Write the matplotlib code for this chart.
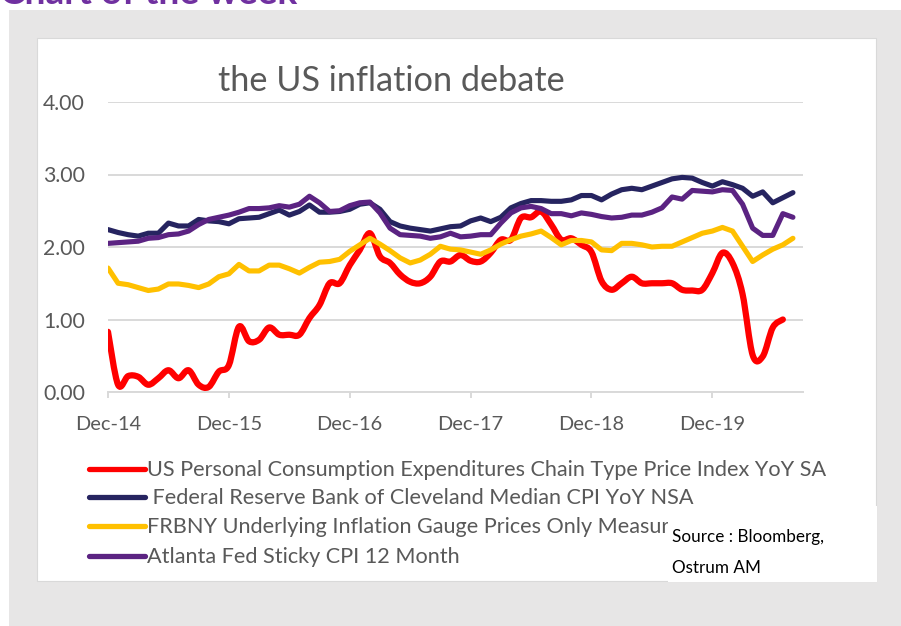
import numpy as np
import matplotlib
matplotlib.use("Agg")
import matplotlib.pyplot as plt
from matplotlib.path import Path
from matplotlib.patches import PathPatch, Rectangle
from matplotlib.lines import Line2D

# ---------------- data (monthly, Dec-14 .. Aug-20) ----------------
tick_labels = ["Dec-14", "Dec-15", "Dec-16", "Dec-17", "Dec-18", "Dec-19"]
tick_months = [0, 12, 24, 36, 48, 60]

pce = [0.83, 0.10, 0.22, 0.21, 0.10, 0.19, 0.30, 0.19, 0.30, 0.10, 0.07, 0.28,
       0.37, 0.90, 0.70, 0.72, 0.89, 0.79, 0.79, 0.79, 1.02, 1.20, 1.50, 1.50,
       1.75, 1.96, 2.19, 1.87, 1.78, 1.62, 1.52, 1.50, 1.59, 1.80, 1.80, 1.89,
       1.81, 1.80, 1.92, 2.10, 2.10, 2.40, 2.41, 2.49, 2.31, 2.10, 2.12, 2.03,
       1.93, 1.53, 1.41, 1.50, 1.59, 1.50, 1.50, 1.50, 1.50, 1.41, 1.40, 1.41,
       1.64, 1.92, 1.78, 1.35, 0.51, 0.49, 0.89, 1.00]

cleveland = [2.24, 2.20, 2.17, 2.15, 2.19, 2.19, 2.33, 2.29, 2.29, 2.38, 2.36, 2.35,
             2.32, 2.39, 2.40, 2.41, 2.46, 2.51, 2.44, 2.49, 2.58, 2.48, 2.48, 2.49,
             2.52, 2.59, 2.61, 2.52, 2.35, 2.29, 2.26, 2.24, 2.22, 2.25, 2.28, 2.29,
             2.36, 2.40, 2.35, 2.41, 2.54, 2.60, 2.64, 2.64, 2.63, 2.63, 2.65, 2.71,
             2.71, 2.65, 2.73, 2.79, 2.81, 2.79, 2.84, 2.89, 2.94, 2.96, 2.95, 2.89,
             2.84, 2.90, 2.86, 2.81, 2.70, 2.76, 2.61, 2.68, 2.75]

frbny = [1.71, 1.50, 1.48, 1.44, 1.40, 1.42, 1.49, 1.49, 1.47, 1.44, 1.49, 1.59,
         1.63, 1.76, 1.67, 1.67, 1.75, 1.75, 1.70, 1.64, 1.72, 1.79, 1.80, 1.83,
         1.94, 2.03, 2.12, 2.04, 1.95, 1.85, 1.78, 1.82, 1.90, 2.01, 1.97, 1.96,
         1.93, 1.90, 1.96, 2.04, 2.10, 2.15, 2.18, 2.22, 2.13, 2.03, 2.09, 2.09,
         2.07, 1.96, 1.95, 2.05, 2.05, 2.03, 2.00, 2.01, 2.01, 2.07, 2.13, 2.19,
         2.22, 2.27, 2.22, 2.01, 1.80, 1.89, 1.97, 2.03, 2.12]

atlanta = [2.05, 2.06, 2.07, 2.08, 2.12, 2.13, 2.17, 2.18, 2.22, 2.31, 2.38, 2.41,
           2.44, 2.48, 2.53, 2.53, 2.54, 2.57, 2.55, 2.59, 2.70, 2.61, 2.49, 2.50,
           2.57, 2.61, 2.62, 2.47, 2.26, 2.17, 2.16, 2.15, 2.12, 2.14, 2.19, 2.14,
           2.15, 2.17, 2.17, 2.33, 2.47, 2.54, 2.56, 2.53, 2.46, 2.46, 2.43, 2.47,
           2.45, 2.42, 2.40, 2.41, 2.44, 2.44, 2.48, 2.54, 2.69, 2.66, 2.78, 2.77,
           2.76, 2.79, 2.78, 2.59, 2.26, 2.16, 2.16, 2.46, 2.41]

series_labels = [
    "US Personal Consumption Expenditures Chain Type Price Index YoY SA",
    " Federal Reserve Bank of Cleveland Median CPI YoY NSA",
    "FRBNY Underlying Inflation Gauge Prices Only Measure",
    "Atlanta Fed Sticky CPI 12 Month",
]
series_colors = ["#FF0000", "#262460", "#FFC000", "#5B2382"]
y_ticks = [0, 1, 2, 3, 4]
title = "the US inflation debate"
header = "Chart of the week"
source_lines = ["Source : Bloomberg,", "Ostrum AM"]

# ---------------- figure ----------------
plt.rcParams['font.family'] = ['Lato', 'DejaVu Sans']
W, H = 901, 626
TXT = "#595959"
GRID = "#D9D9D9"

fig = plt.figure(figsize=(W / 100, H / 100), dpi=100)
fig.patch.set_facecolor("white")
renderer = fig.canvas.get_renderer()


def fx(x):
    return x / W


def fy(y):
    return 1 - y / H


def size_for(text, target, **kw):
    t = fig.text(0, 0, text, fontsize=10, **kw)
    w = t.get_window_extent(renderer).width
    t.remove()
    return 10 * target / w


# background panels
fig.add_artist(Rectangle((fx(9), 0), 1 - fx(9), fy(10), transform=fig.transFigure,
                         facecolor="#E7E6E6", edgecolor="none", zorder=0))
fig.add_artist(Rectangle((fx(37), fy(581)), fx(876) - fx(37), fy(38) - fy(581),
                         transform=fig.transFigure, facecolor="white",
                         edgecolor="#D9D9D9", lw=0.8, zorder=1))

# header (cut off at the top, as in the original page)
fig.text(fx(0), fy(4), header, fontsize=size_for(header, 298, fontweight="bold"),
         fontweight="bold", color="#7030A0", ha="left", va="baseline", zorder=3)

# axes
ax = fig.add_axes([fx(108), fy(392), fx(803) - fx(108), fy(102) - fy(392)])
ax.set_zorder(2)
ax.patch.set_visible(False)
n = len(cleveland)
x_all = np.arange(n)
ax.set_xlim(0, n)
ax.set_ylim(0, 4)

for s in ["top", "right", "left"]:
    ax.spines[s].set_visible(False)
ax.spines["bottom"].set_color(GRID)
ax.spines["bottom"].set_linewidth(1.4)

ax.set_yticks(y_ticks)
ax.set_yticklabels([f"{v:.2f}" for v in y_ticks])
ax.set_xticks(tick_months)
ax.set_xticklabels(tick_labels)
ax.grid(axis="y", color=GRID, lw=1.4)
ax.set_axisbelow(True)

tick_fs = size_for("Dec-14", 66)
ytick_fs = size_for("4.00", 42)
ax.tick_params(axis="y", length=0, pad=16.5, labelsize=ytick_fs, labelcolor=TXT)
ax.tick_params(axis="x", length=4.5, width=1.4, color=GRID, direction="out",
               pad=12.5, labelsize=tick_fs, labelcolor=TXT)


def smooth_path(xs, ys):
    pts = np.column_stack([xs, ys]).astype(float)
    m = len(pts)
    verts = [pts[0]]
    codes = [Path.MOVETO]
    for i in range(m - 1):
        p0 = pts[i - 1] if i > 0 else pts[i]
        p1 = pts[i]
        p2 = pts[i + 1]
        p3 = pts[i + 2] if i + 2 < m else pts[i + 1]
        verts += [p1 + (p2 - p0) / 6.0, p2 - (p3 - p1) / 6.0, p2]
        codes += [Path.CURVE4] * 3
    return Path(verts, codes)


# PCE drawn as a smoothed line
ax.add_patch(PathPatch(smooth_path(np.arange(len(pce)), pce), fill=False,
                       edgecolor=series_colors[0], lw=4.5, capstyle="round",
                       joinstyle="round", zorder=2))
for vals, col, z in [(cleveland, series_colors[1], 3), (frbny, series_colors[2], 4),
                     (atlanta, series_colors[3], 5)]:
    ax.plot(x_all, vals, color=col, lw=3.7, solid_joinstyle="round",
            solid_capstyle="round", zorder=z)

# title
fig.text(fx(391.5), fy(81), title, fontsize=size_for(title, 347), color=TXT,
         ha="center", va="center", zorder=3)

# legend (manual)
leg_fs = size_for(series_labels[0], 681)
rows_y = [470, 498, 527, 557]
for lab, col, yy in zip(series_labels, series_colors, rows_y):
    fig.add_artist(Line2D([fx(89), fx(145)], [fy(yy - 1), fy(yy - 1)],
                          transform=fig.transFigure, color=col, lw=3.8,
                          solid_capstyle="round", zorder=3))
    fig.text(fx(147), fy(yy), lab, fontsize=leg_fs, color=TXT, ha="left",
             va="center", zorder=3)

# source box covering the end of the third label
fig.add_artist(Rectangle((fx(668), fy(582)), fx(877) - fx(668), fy(506) - fy(582),
                         transform=fig.transFigure, facecolor="white",
                         edgecolor="none", zorder=4))
src_fs = size_for(source_lines[0], 152)
fig.text(fx(672), fy(537), source_lines[0], fontsize=src_fs, color="black",
         ha="left", va="center", zorder=5)
fig.text(fx(672), fy(568), source_lines[1], fontsize=src_fs, color="black",
         ha="left", va="center", zorder=5)

fig.savefig("out.png", dpi=100, facecolor=fig.get_facecolor())
